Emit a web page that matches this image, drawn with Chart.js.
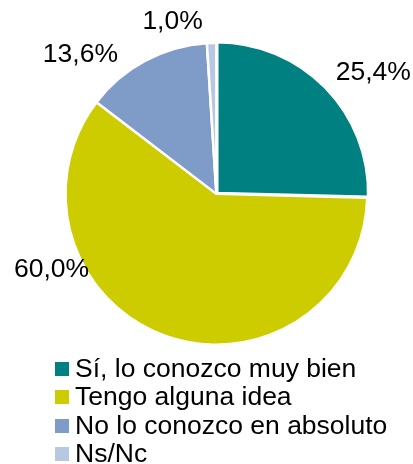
<!DOCTYPE html>
<html>
  <head>
    <meta charset="utf-8" />
    <title>Conocimiento</title>
    <style>
        html, body {
            width: 100%;
            height: 100%;
            margin: 0;
            padding: 0;
            overflow: hidden;
            background: #fff;
        }
        #wrap {
            position: relative;
            width: 413px;
            height: 464px;
        }
        #legend {
            position: absolute;
            left: 55px;
            top: 354px;
            font-family: Arial, "Liberation Sans", sans-serif;
            font-size: 26.5px;
            line-height: 28.3px;
            color: #000;
            white-space: nowrap;
        }
        #legend .box {
            display: inline-block;
            width: 14px;
            height: 14px;
            margin-right: 6px;
            vertical-align: 1px;
        }
    </style>
  </head>
  <body>
    <script src="https://cdn.jsdelivr.net/npm/chart.js@4/dist/chart.umd.min.js"></script>

    <div id="wrap">
      <canvas id="chart" width="413" height="464"></canvas>
      <div id="legend"></div>
    </div>

    <script>
        const categories = ["Sí, lo conozco muy bien", "Tengo alguna idea", "No lo conozco en absoluto", "Ns/Nc"];
        const values = [25.4, 60.0, 13.6, 1.0];
        const valueLabels = ["25,4%", "60,0%", "13,6%", "1,0%"];
        const colors = ["#008080", "#CCCC00", "#7F9BC8", "#B8C8E3"];

        // where each % label sits: angle (deg, canvas) and distance as a share of the radius
        const labelPlacement = [
          { angle: -37.6, dist: 1.313 },
          { angle: 155.3, dist: 1.203 },
          { angle: -134.4, dist: 1.288 },
          { angle: -104.3, dist: 1.175 }
        ];

        const outsideLabels = {
          id: "outsideLabels",
          afterDatasetsDraw(chart) {
            const ctx = chart.ctx;
            const arcs = chart.getDatasetMeta(0).data;
            ctx.save();
            ctx.font = "26.5px Arial, 'Liberation Sans', sans-serif";
            ctx.fillStyle = "#000";
            ctx.textAlign = "center";
            ctx.textBaseline = "middle";
            arcs.forEach((arc, i) => {
              const p = labelPlacement[i];
              const a = p.angle * Math.PI / 180;
              const r = arc.outerRadius * p.dist;
              ctx.fillText(valueLabels[i], arc.x + Math.cos(a) * r, arc.y + Math.sin(a) * r);
            });
            ctx.restore();
          }
        };

        const chart = new Chart("chart", {
          type: "pie",
          data: {
            labels: categories,
            datasets: [{
              data: values,
              backgroundColor: colors,
              borderColor: "#ffffff",
              borderWidth: 2.5,
              offset: [5, 0, 0, 0]
            }]
          },
          options: {
            responsive: false,
            animation: false,
            layout: { padding: { left: 61.75, right: 42, top: 39.25, bottom: 115.5 } },
            plugins: {
              legend: { display: false },
              tooltip: { enabled: false }
            }
          },
          plugins: [outsideLabels]
        });

        const legend = document.getElementById("legend");
        categories.forEach((c, i) => {
          const row = document.createElement("div");
          const box = document.createElement("span");
          box.className = "box";
          box.style.background = colors[i];
          row.appendChild(box);
          row.appendChild(document.createTextNode(c));
          legend.appendChild(row);
        });
    </script>
  </body>
</html>
